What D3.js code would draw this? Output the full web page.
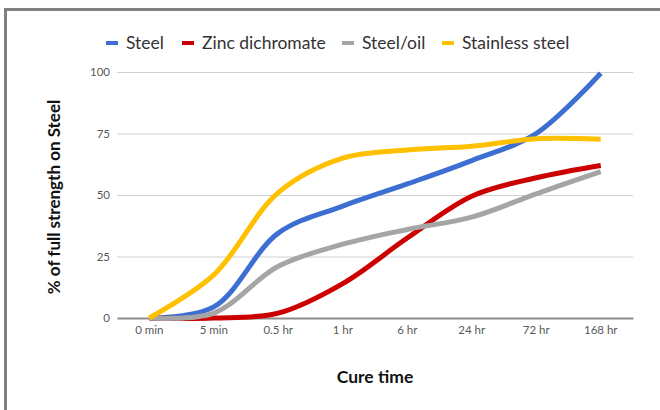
<!DOCTYPE html>
<html>
<head>
<meta charset="utf-8">
<script src="https://cdn.jsdelivr.net/npm/d3@7"></script>
<style>
  body { margin: 0; background: #fff; }
  text { font-family: Lato, "Open Sans", "Liberation Sans", sans-serif; }
</style>
</head>
<body>
<div id="my_dataviz"></div>
<script>
// data
var categories = ["0 min", "5 min", "0.5 hr", "1 hr", "6 hr", "24 hr", "72 hr", "168 hr"];
var seriesNames = ["Steel", "Zinc dichromate", "Steel/oil", "Stainless steel"];
var steel      = [0, 4.5, 34.5, 45.5, 54.5, 64, 75, 99.5];
var zinc       = [0, 0, 2, 14, 32.5, 49.5, 57, 62];
var steelOil   = [0, 2, 21, 30, 36, 41, 50.5, 59.5];
var stainless  = [0, 17.5, 51, 65, 68.3, 69.8, 72.9, 72.7];
var yTicks = [0, 25, 50, 75, 100];
var colors = ["#3c6fd1", "#cc0000", "#a5a5a5", "#ffc000"];

var allSeries = [steel, zinc, steelOil, stainless];

var W = 660, H = 410;
var margin = {top: 72, right: 27, bottom: 92, left: 117},
    width = W - margin.left - margin.right,
    height = H - margin.top - margin.bottom;

var root = d3.select("#my_dataviz")
  .append("svg")
    .attr("width", W)
    .attr("height", H);

// outer frame (top + left only visible)
root.append("line")
    .attr("x1", 4).attr("y1", 9.5).attr("x2", W).attr("y2", 9.5)
    .attr("stroke", "#808080").attr("stroke-width", 3);
root.append("line")
    .attr("x1", 5.5).attr("y1", 8).attr("x2", 5.5).attr("y2", H)
    .attr("stroke", "#808080").attr("stroke-width", 3);

var svg = root.append("g")
    .attr("transform", "translate(" + margin.left + "," + margin.top + ")");

var x = d3.scaleBand()
    .domain(categories)
    .range([0, width]);

var y = d3.scaleLinear()
    .domain([0, 100])
    .range([height, 0]);

// gridlines
svg.append("g")
  .selectAll("line")
  .data(yTicks.filter(function (d) { return d > 0; }))
  .enter()
  .append("line")
    .attr("x1", 0).attr("x2", width)
    .attr("y1", function (d) { return y(d) + 0.5; })
    .attr("y2", function (d) { return y(d) + 0.5; })
    .attr("stroke", "#d0d0d0").attr("stroke-width", 1);

// Y axis labels
var yAxis = svg.append("g")
    .call(d3.axisLeft(y).tickValues(yTicks).tickSize(0).tickPadding(7));
yAxis.select(".domain").remove();
yAxis.selectAll("text")
    .style("font-size", "11.5px")
    .attr("fill", "#595959");

// X axis
var xAxis = svg.append("g")
    .attr("transform", "translate(0," + height + ")")
    .call(d3.axisBottom(x).tickSize(0).tickPadding(8));
xAxis.select(".domain")
    .attr("stroke", "#8c8c8c").attr("stroke-width", 2);
xAxis.selectAll("text")
    .style("font-size", "11.5px")
    .attr("fill", "#595959");

// lines
var line = d3.line()
    .x(function (d, i) { return x(categories[i]) + x.bandwidth() / 2; })
    .y(function (d) { return y(d); })
    .curve(d3.curveCatmullRom);

svg.append("g")
  .selectAll("path")
  .data(allSeries)
  .enter()
  .append("path")
    .attr("d", line)
    .attr("fill", "none")
    .attr("stroke", function (d, i) { return colors[i]; })
    .attr("stroke-width", 5)
    .attr("stroke-linecap", "butt")
    .attr("stroke-linejoin", "round");

// legend
var legendX = [106, 182, 342, 442];
var legend = root.append("g")
  .selectAll("g")
  .data(seriesNames)
  .enter()
  .append("g")
    .attr("transform", function (d, i) { return "translate(" + legendX[i] + ",43)"; });
legend.append("rect")
    .attr("x", 0).attr("y", -2)
    .attr("width", 12).attr("height", 4)
    .attr("fill", function (d, i) { return colors[i]; });
legend.append("text")
    .attr("x", 20).attr("y", 0)
    .attr("dy", "0.35em")
    .style("font-size", "17.5px")
    .attr("fill", "#333")
    .text(function (d) { return d; });

// axis titles
root.append("text")
    .attr("transform", "translate(" + (margin.left + width / 2) + ",377)")
    .style("text-anchor", "middle")
    .attr("dy", "0.35em")
    .style("font-size", "17.5px")
    .style("font-weight", "bold")
    .attr("fill", "#111")
    .text("Cure time");

root.append("text")
    .attr("transform", "translate(54," + (margin.top + height / 2 + 2) + ") rotate(-90)")
    .style("text-anchor", "middle")
    .attr("dy", "0.35em")
    .style("font-size", "17px")
    .style("font-weight", "bold")
    .attr("fill", "#111")
    .text("% of full strength on Steel");
</script>
</body>
</html>
